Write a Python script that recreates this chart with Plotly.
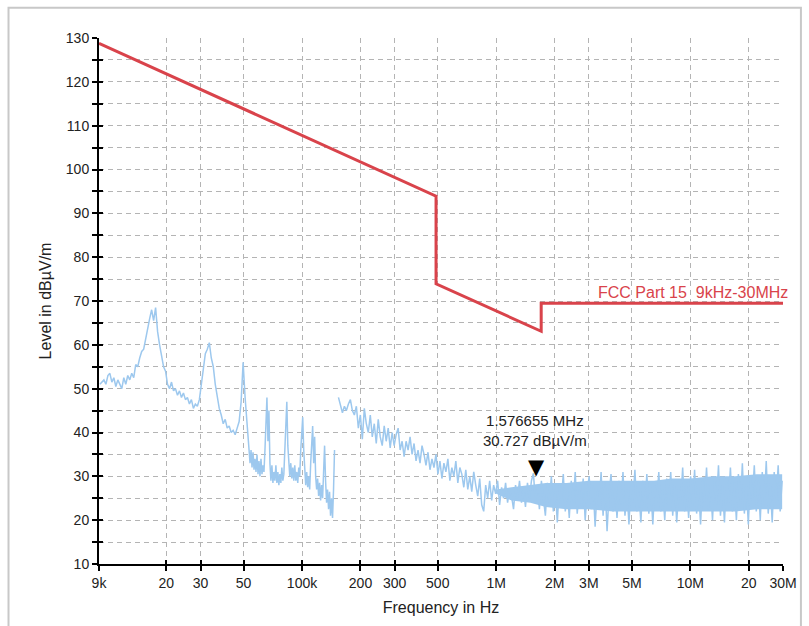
import numpy as np
import plotly.graph_objects as go

# ---------------- data ----------------
limit_freq_hz = [9e3, 490e3, 490e3, 1.705e6, 1.705e6, 30e6]
limit_level = [128.8, 93.9, 73.9, 63.1, 69.5, 69.5]
limit_name = "FCC Part 15  9kHz-30MHz"

# first sweep band, part 1 (9 kHz - 51 kHz)
sweep_a1_start_hz, sweep_a1_stop_hz = 9.1e3, 50.9e3
sweep_a1_level = [
    51, 51.5, 52, 51, 53, 53.5, 51.5, 52.5, 50.5, 52, 51, 50, 52.5, 51, 53, 52,
    53.5, 52.5, 55.5, 55, 57, 58.5, 59, 61.5, 63.5, 66, 68, 65.5, 68.5, 63, 60,
    57, 55, 54, 51, 50, 51.5, 49.5, 50, 48.5, 49.5, 48, 49, 47.5, 48, 46.5, 47.5,
    45.5, 46.5, 46, 47.5, 51, 55, 58, 59, 60.5, 57, 55, 51, 48, 45.5, 44, 42, 43,
    41, 41.5, 40, 40.5, 39.5, 41, 42.5, 47, 56, 48,
]
# first sweep band, part 2 (52 kHz - 147 kHz, denser)
sweep_a2_start_hz, sweep_a2_stop_hz = 52.1e3, 147e3
sweep_a2_level = [
    42, 38, 36, 33, 36, 32, 35.5, 31.5, 34, 31, 35, 30.5, 33.5, 30, 34, 30.5,
    32.5, 31, 36, 44, 48, 38, 45, 33, 29, 32.5, 28.5, 31, 29, 32.5, 28.5, 31, 28,
    30.5, 28.5, 32, 29, 30.5, 36, 42, 47, 37, 33, 30, 33, 29.5, 32, 29, 32.5, 29,
    31, 28.5, 32, 30, 36, 41, 43.5, 36, 32, 28, 31, 27.5, 30, 27, 33, 37, 41.5,
    33, 39, 30, 27, 29.5, 25.5, 28.5, 24.5, 28, 25, 31, 37, 29, 24, 27, 22.5,
    26.5, 21, 25, 20.5, 27, 36,
]

# second sweep band (150 kHz - 30 MHz)
sweep_b_start_hz, sweep_b_stop_hz = 154e3, 29.7e6
sweep_b_level = [
    48, 46, 44.5, 46, 45, 46.5, 47.5, 45, 44, 46, 41, 44, 38.5, 45.5, 42, 40, 44,
    39, 42, 37.5, 43, 39, 37, 41.5, 38, 41, 36.5, 40, 37, 39.5, 41, 36, 38, 34.5,
    38, 36, 39, 35, 37.5, 33.5, 36, 33, 37, 35, 32.5, 35.5, 31.5, 34, 32, 35,
    30.5, 33.5, 29.5, 33, 31, 34, 29, 32, 30, 33.5, 28.5, 32, 30.5, 27.5, 31.5,
    27, 30, 26.5, 31, 28, 25.5, 29.5, 23.5, 22, 28, 25, 29, 24.5, 28, 26, 29,
    23.5, 27.5, 25, 28.5, 24, 27, 25.5, 22.5, 28, 25, 29, 24, 27, 23, 28.5, 25,
    29, 30.7, 24, 28, 22.5, 29, 25, 21, 28.5, 24, 30, 22, 27, 19.5, 28, 24.5,
    30.5, 22, 27.5, 20.5, 29, 24, 31, 21.5, 27, 23, 29.5, 20, 26.5, 30, 22.5, 28,
    18.5, 27, 23, 31, 21, 28.5, 17.5, 26, 30.5, 22, 27.5, 20.5, 29, 23.5, 31, 21,
    27, 19, 28.5, 24, 31.5, 22, 26.5, 19.5, 29, 23, 30.5, 21.5, 27.5, 19, 28, 24,
    31, 22, 27, 20, 29.5, 23.5, 31, 21, 28, 19.5, 27, 24, 32, 22, 28.5, 20.5, 30,
    23, 31.5, 21.5, 27.5, 19, 29, 24, 32, 22.5, 28, 20, 30, 23.5, 32.5, 21, 28,
    19.5, 29.5, 24, 32, 22, 28.5, 20, 30.5, 23, 33, 21.5, 28, 19, 30, 24.5, 32.5,
    22, 29, 20, 31, 23.5, 33.5, 21.5, 28.5, 19.5, 31, 24, 32.5, 22, 29,
]
# dense part of the second band (filled envelope)
dense_b_freq_hz = [1.0e6, 1.2e6, 1.5e6, 1.8e6, 2.3e6, 3e6, 4e6, 5e6, 6.5e6,
                   8e6, 10e6, 13e6, 17e6, 22e6, 29.7e6]
dense_b_low = [26, 24.5, 24, 23, 22.5, 22.5, 22, 22, 22, 22, 22, 22, 22,
               22.5, 22.5]
dense_b_high = [27, 27.5, 28, 28.5, 28.5, 29, 29, 29, 29, 29.5, 29.5, 30, 30,
                30.5, 30.5]

marker_freq_hz = 1.576655e6
marker_level = 30.727

x_tickvals = [9e3, 20e3, 30e3, 50e3, 100e3, 200e3, 300e3, 500e3,
              1e6, 2e6, 3e6, 5e6, 10e6, 20e6, 30e6]
x_ticktext = ["9k", "20", "30", "50", "100k", "200", "300", "500",
              "1M", "2M", "3M", "5M", "10M", "20", "30M"]
y_range = [10, 130]
x_title = "Frequency in Hz"
y_title = "Level in dBµV/m"

# ---------------- figure ----------------
FONT = "Arial, Liberation Sans, sans-serif"
BLUE = "#9dc8ee"
RED = "#d9434b"
GRID = "#b4b4b4"

freq_a = np.concatenate([
    np.geomspace(sweep_a1_start_hz, sweep_a1_stop_hz, len(sweep_a1_level)),
    np.geomspace(sweep_a2_start_hz, sweep_a2_stop_hz, len(sweep_a2_level)),
])
level_a = sweep_a1_level + sweep_a2_level
freq_b = np.geomspace(sweep_b_start_hz, sweep_b_stop_hz, len(sweep_b_level))

fig = go.Figure()

fig.add_trace(go.Scatter(
    x=list(dense_b_freq_hz) + list(dense_b_freq_hz)[::-1],
    y=list(dense_b_high) + list(dense_b_low)[::-1],
    mode="none", fill="toself", fillcolor=BLUE,
    hoverinfo="skip", showlegend=False))

fig.add_trace(go.Scatter(x=freq_a, y=level_a, mode="lines",
                         line=dict(color=BLUE, width=1.5), showlegend=False))
fig.add_trace(go.Scatter(x=freq_b, y=sweep_b_level, mode="lines",
                         line=dict(color=BLUE, width=1.5), showlegend=False))
fig.add_trace(go.Scatter(x=limit_freq_hz, y=limit_level, mode="lines",
                         line=dict(color=RED, width=3), showlegend=False))
# helper trace for the inner tick axes
fig.add_trace(go.Scatter(x=[], y=[], xaxis="x2", yaxis="y2", showlegend=False))

xr = [np.log10(x_tickvals[0]), np.log10(x_tickvals[-1])]

fig.update_layout(
    width=809, height=626,
    margin=dict(l=99, r=22, t=38, b=59),
    paper_bgcolor="white", plot_bgcolor="white",
    font=dict(family=FONT, size=14, color="#222"),
    xaxis=dict(
        type="log", range=xr, tickvals=x_tickvals, ticktext=x_ticktext,
        showgrid=True, gridcolor=GRID, griddash="5px,4px", gridwidth=1,
        showline=True, linecolor="black", linewidth=2,
        ticks="outside", ticklen=5, tickwidth=1.5, tickcolor="black",
        zeroline=False,
        title=dict(text=x_title, font=dict(size=16, color="#222"), standoff=12),
    ),
    yaxis=dict(
        range=y_range, dtick=10, tick0=0,
        showgrid=True, gridcolor=GRID, griddash="5px,4px", gridwidth=1,
        showline=True, linecolor="black", linewidth=2,
        ticks="outside", ticklen=5, tickwidth=1.5, tickcolor="black",
        minor=dict(dtick=5, tick0=0, ticks="outside", ticklen=5, tickwidth=1.5,
                   tickcolor="black", showgrid=True, gridcolor=GRID,
                   griddash="5px,4px"),
        zeroline=False,
        title=dict(text=y_title, font=dict(size=16, color="#222"), standoff=10),
    ),
    xaxis2=dict(
        type="log", range=xr, tickvals=x_tickvals, overlaying="x", anchor="y2",
        side="bottom", ticks="inside", ticklen=4, tickwidth=1.5,
        tickcolor="black", showticklabels=False, showgrid=False,
        showline=False, zeroline=False,
    ),
    yaxis2=dict(
        range=y_range, dtick=5, tick0=0, overlaying="y", anchor="x2",
        side="left", ticks="inside", ticklen=4, tickwidth=1.5,
        tickcolor="black", showticklabels=False, showgrid=False,
        showline=False, zeroline=False,
    ),
)

# limit line label
fig.add_annotation(x=np.log10(limit_freq_hz[-1]), y=limit_level[-1],
                   text=limit_name, showarrow=False, xanchor="right",
                   yanchor="bottom", xshift=7, yshift=0,
                   font=dict(family=FONT, size=16, color=RED))

# marker
fig.add_annotation(x=np.log10(marker_freq_hz), y=marker_level, text="▼",
                   showarrow=False, xanchor="center", yanchor="bottom",
                   yshift=-8, xshift=2, font=dict(family="DejaVu Sans", size=21, color="black"))
fig.add_annotation(x=np.log10(marker_freq_hz), y=marker_level,
                   text=f"{marker_freq_hz/1e6:.6f} MHz<br>{marker_level:.3f} dBµV/m",
                   showarrow=False, xanchor="center", yanchor="bottom",
                   yshift=22, font=dict(family=FONT, size=15, color="#222"))

# outer frame
fig.add_shape(type="rect", xref="paper", yref="paper",
              x0=-0.1323, x1=1.0262, y0=-0.3, y1=1.0573,
              line=dict(color="#c8c8c8", width=2), layer="below")

fig.write_html("out.html")
